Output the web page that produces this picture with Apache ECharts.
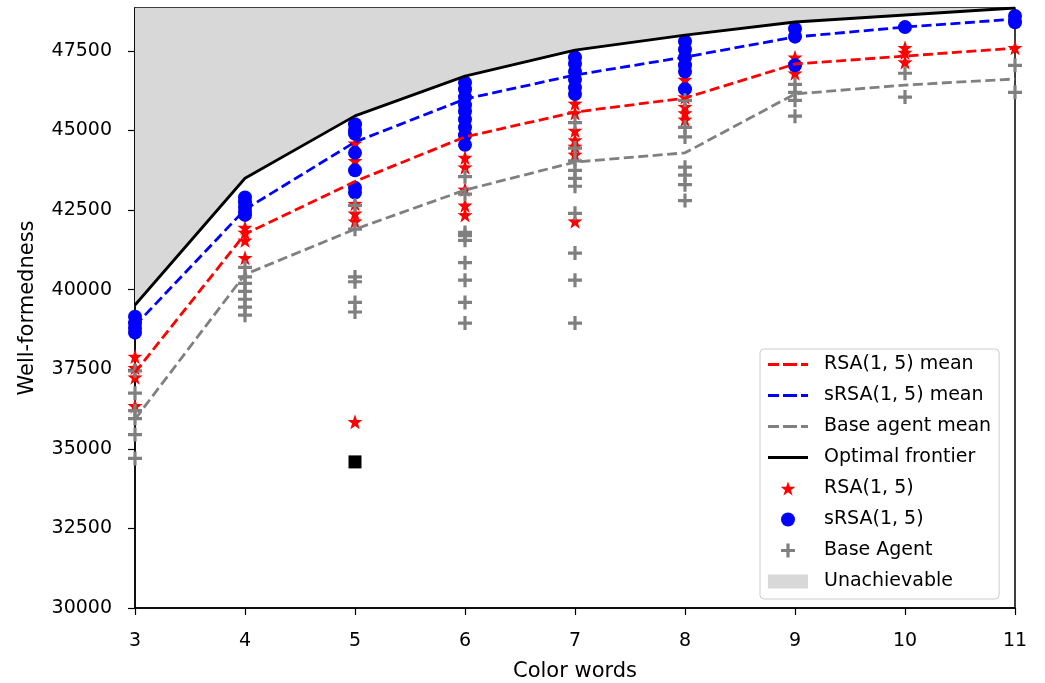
<!DOCTYPE html>
<html>
<head>
<meta charset="utf-8">
<script src="https://cdn.jsdelivr.net/npm/echarts@6/dist/echarts.min.js"></script>
<style>
html, body { margin: 0; padding: 0; background: #fff; }
#chart { width: 1045px; height: 683px; }
</style>
</head>
<body>
<div id="chart"></div>
<script>
// color words on the x axis
const xCats = [3, 4, 5, 6, 7, 8, 9, 10, 11]
const yTicks = [30000, 32500, 35000, 37500, 40000, 42500, 45000, 47500]

// means / frontier, one value per x
const frontier = [39520, 43500, 45460, 46710, 47530, 48000, 48410, 48630, 48850]
const rsaMean = [37400, 41750, 43400, 44800, 45580, 46020, 47090, 47340, 47590]
const srsaMean = [38870, 42520, 44640, 45990, 46745, 47310, 47940, 48250, 48500]
const baseMean = [35930, 40480, 41900, 43130, 44010, 44300, 46150, 46430, 46620]

// individual runs, one list per x
const rsaRuns = [
  [37900, 37550, 37250, 36350],
  [41950, 41800, 41550, 41000],
  [44600, 44050, 42700, 42400, 42150, 35850],
  [44150, 43850, 43150, 42650, 42350],
  [45850, 45550, 45000, 44700, 44500, 44250, 42150],
  [46600, 46050, 45750, 45550, 45350],
  [47300, 47100, 46800],
  [47600, 47450, 47150],
  [47600]
]
const srsaRuns = [
  [39150, 38950, 38800, 38650],
  [42900, 42750, 42600, 42450, 42350],
  [45200, 45000, 44900, 44300, 43750, 43200, 43050],
  [46500, 46300, 46050, 45800, 45600, 45350, 45100, 44850, 44550],
  [47300, 47100, 46850, 46600, 46350, 46150],
  [47800, 47550, 47300, 47050, 46850, 46300],
  [48200, 47950, 47050],
  [48250],
  [48600, 48400]
]
const baseRuns = [
  [37450, 36750, 36200, 35950, 35450, 34700],
  [40700, 40400, 40200, 39950, 39700, 39450, 39200],
  [42650, 41900, 40400, 40250, 39600, 39300],
  [43550, 43000, 41800, 41700, 41550, 40850, 40300, 39600, 38950],
  [45250, 44450, 44050, 43750, 43500, 43250, 42400, 41150, 40300, 38950],
  [45950, 45100, 44800, 43850, 43600, 43300, 42800],
  [46450, 46200, 45950, 45450],
  [46800, 46050],
  [47050, 46200]
]
const extraX = [5]
const extraY = [34590]

const pairs = (vals) => xCats.map((x, i) => [x, vals[i]])
const runPairs = (runs) => {
  const out = []
  runs.forEach((list, i) => list.forEach(v => out.push([xCats[i], v])))
  return out
}

const starPath = 'path://M0,-10L2.35,-3.24L9.51,-3.09L3.8,1.24L5.88,8.09L0,4L-5.88,8.09L-3.8,1.24L-9.51,-3.09L-2.35,-3.24Z'
const plusPath = 'path://M-1.6,-7L1.6,-7L1.6,-1.6L7,-1.6L7,1.6L1.6,1.6L1.6,7L-1.6,7L-1.6,1.6L-7,1.6L-7,-1.6L-1.6,-1.6Z'
// legend icons
const dashIcon = 'path://M0,0h11v2.8h-11zM15,0h14v2.8h-14zM33,0h7v2.8h-7z'
const solidIcon = 'path://M0,0h40v2.8h-40z'
const font = 'DejaVu Sans'
const dash = [10, 4.5]

const chart = echarts.init(document.getElementById('chart'))
chart.setOption({
  animation: false,
  textStyle: { fontFamily: font },
  grid: {
    left: 135, right: 30, top: 8, bottom: 75,
    outerBoundsMode: 'none',
    containLabel: false,
    show: true, borderColor: '#000', borderWidth: 1.5
  },
  legend: {
    orient: 'vertical',
    left: 760,
    top: 349,
    padding: [6, 8, 8, 8],
    itemGap: 12,
    itemWidth: 40,
    itemHeight: 14,
    selectedMode: false,
    backgroundColor: 'rgba(255,255,255,0.85)',
    borderColor: '#cccccc',
    borderWidth: 1,
    borderRadius: 4,
    textStyle: { fontFamily: font, fontSize: 19, color: '#000', padding: [0, 0, 0, 11] },
    data: [
      { name: 'RSA(1, 5) mean', icon: dashIcon, itemStyle: { color: '#ff0000' } },
      { name: 'sRSA(1, 5) mean', icon: dashIcon, itemStyle: { color: '#0000ff' } },
      { name: 'Base agent mean', icon: dashIcon, itemStyle: { color: '#808080' } },
      { name: 'Optimal frontier', icon: solidIcon, itemStyle: { color: '#000' } },
      { name: 'RSA(1, 5)', icon: starPath, itemStyle: { color: '#ff0000' } },
      { name: 'sRSA(1, 5)', icon: 'circle', itemStyle: { color: '#0000ff' } },
      { name: 'Base Agent', icon: plusPath, itemStyle: { color: '#808080' } },
      { name: 'Unachievable', icon: 'rect', itemStyle: { color: '#d8d8d8' } }
    ]
  },
  xAxis: {
    type: 'value',
    min: 3,
    max: 11,
    interval: 1,
    name: 'Color words',
    nameLocation: 'middle',
    nameGap: 53,
    nameTextStyle: { fontFamily: font, fontSize: 21, color: '#000' },
    axisLine: { show: true, lineStyle: { color: '#000', width: 1.5 } },
    axisTick: { show: true, length: 7, lineStyle: { color: '#000', width: 1.2 } },
    axisLabel: { fontFamily: font, fontSize: 19, color: '#000', margin: 24 },
    splitLine: { show: false }
  },
  yAxis: {
    type: 'value',
    min: 30000,
    max: 48850,
    name: 'Well-formedness',
    nameLocation: 'middle',
    nameGap: 97,
    nameTextStyle: { fontFamily: font, fontSize: 21, color: '#000' },
    axisLine: { show: true, lineStyle: { color: '#000', width: 1.5 } },
    axisTick: { show: true, length: 7, customValues: yTicks, lineStyle: { color: '#000', width: 1.2 } },
    axisLabel: {
      fontFamily: font, fontSize: 19, color: '#000', margin: 23,
      customValues: yTicks,
      formatter: v => String(v)
    },
    splitLine: { show: false }
  },
  series: [
    {
      name: 'Unachievable',
      type: 'line',
      data: pairs(frontier),
      symbol: 'none',
      itemStyle: { color: '#d8d8d8' },
      lineStyle: { width: 0, opacity: 0 },
      areaStyle: { origin: 'end', color: '#d8d8d8', opacity: 1 },
      z: 1
    },
    {
      name: 'RSA(1, 5)',
      type: 'scatter',
      data: runPairs(rsaRuns),
      symbol: starPath,
      symbolSize: 15,
      itemStyle: { color: '#ff0000', opacity: 1 },
      z: 2
    },
    {
      name: 'sRSA(1, 5)',
      type: 'scatter',
      data: runPairs(srsaRuns),
      symbol: 'circle',
      symbolSize: 14,
      itemStyle: { color: '#0000ff', opacity: 1 },
      z: 2
    },
    {
      name: 'Base Agent',
      type: 'scatter',
      data: runPairs(baseRuns),
      symbol: plusPath,
      symbolSize: 14,
      itemStyle: { color: '#808080', opacity: 1 },
      z: 2
    },
    {
      name: 'extra',
      type: 'scatter',
      data: extraX.map((x, i) => [x, extraY[i]]),
      symbol: 'rect',
      symbolSize: 13,
      itemStyle: { color: '#000', opacity: 1 },
      z: 2
    },
    {
      name: 'RSA(1, 5) mean',
      type: 'line',
      data: pairs(rsaMean),
      symbol: 'none',
      itemStyle: { color: '#ff0000' },
      lineStyle: { color: '#ff0000', width: 2.8, type: dash },
      z: 3
    },
    {
      name: 'sRSA(1, 5) mean',
      type: 'line',
      data: pairs(srsaMean),
      symbol: 'none',
      itemStyle: { color: '#0000ff' },
      lineStyle: { color: '#0000ff', width: 2.8, type: dash },
      z: 3
    },
    {
      name: 'Base agent mean',
      type: 'line',
      data: pairs(baseMean),
      symbol: 'none',
      itemStyle: { color: '#808080' },
      lineStyle: { color: '#808080', width: 2.8, type: dash },
      z: 3
    },
    {
      name: 'Optimal frontier',
      type: 'line',
      data: pairs(frontier),
      symbol: 'none',
      itemStyle: { color: '#000' },
      lineStyle: { color: '#000', width: 2.8 },
      z: 3
    }
  ]
})
</script>
</body>
</html>
